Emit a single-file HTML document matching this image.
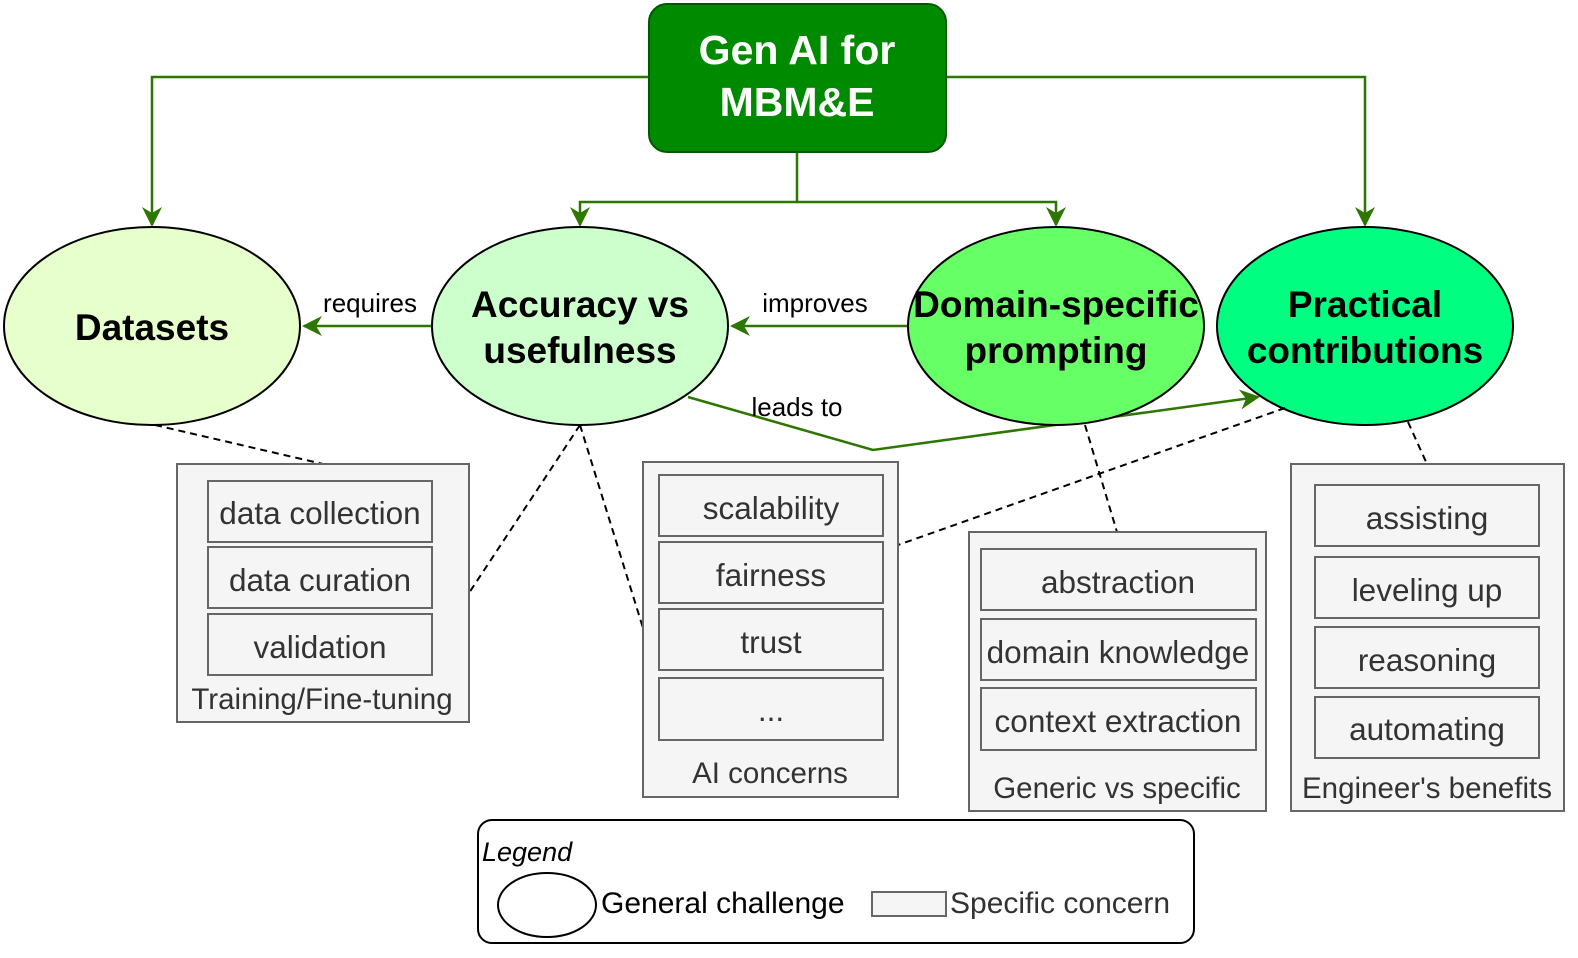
<!DOCTYPE html>
<html><head><meta charset="utf-8"><style>body{margin:0;background:#fff}svg{display:block}</style></head>
<body>
<svg width="1578" height="958" viewBox="0 0 1578 958" xmlns="http://www.w3.org/2000/svg" font-family="Liberation Sans, sans-serif">
<defs>
<marker id="b" viewBox="0 0 10 10" refX="9" refY="5" markerWidth="20" markerHeight="20" orient="auto" markerUnits="userSpaceOnUse"><path d="M0,0 L10,5 L0,10 L3,5 z" fill="#2d7600"/></marker>
</defs>
<g stroke="#2d7600" stroke-width="2.5" fill="none">
<path d="M649,77 H152 V225" marker-end="url(#b)"/>
<path d="M946,77 H1365 V225" marker-end="url(#b)"/>
<path d="M797,152 V202 H580 V225" marker-end="url(#b)"/>
<path d="M797,202 H1056 V225" marker-end="url(#b)"/>
<path d="M432,326 H304" marker-end="url(#b)"/>
<path d="M908,326 H732" marker-end="url(#b)"/>
<path d="M688,397 L873,450 L1258,397" marker-end="url(#b)"/>
</g>
<rect x="649" y="4" width="297" height="148" rx="18" fill="#008a00" stroke="#005700" stroke-width="2"/>
<text x="797" y="64" font-size="41" font-weight="bold" fill="#fff" text-anchor="middle">Gen AI for</text>
<text x="797" y="116" font-size="41" font-weight="bold" fill="#fff" text-anchor="middle">MBM&amp;E</text>
<g stroke="#000" stroke-width="2">
<ellipse cx="152" cy="326" rx="148" ry="99" fill="#e6ffcc"/>
<ellipse cx="580" cy="326" rx="148" ry="99" fill="#ccffcc"/>
<ellipse cx="1056" cy="326" rx="148" ry="99" fill="#66ff66"/>
<ellipse cx="1365" cy="326" rx="148" ry="99" fill="#00ff80"/>
</g>
<g font-size="37" font-weight="bold" text-anchor="middle">
<text x="152" y="340">Datasets</text>
<text x="580" y="317">Accuracy vs</text><text x="580" y="363">usefulness</text>
<text x="1056" y="317">Domain-specific</text><text x="1056" y="363">prompting</text>
<text x="1365" y="317">Practical</text><text x="1365" y="363">contributions</text>
</g>
<g font-size="26" text-anchor="middle">
<text x="370" y="312">requires</text><text x="815" y="312">improves</text><text x="797" y="416">leads to</text>
</g>
<g stroke="#000" stroke-width="2" stroke-dasharray="7,5">
<path d="M155,425 L323,464"/><path d="M580,425 L469,593"/><path d="M580,425 L643,628"/>
<path d="M1285,408 L898,545"/><path d="M1085,425 L1117,532"/><path d="M1408,422 L1427,464"/>
</g>
<g fill="#f5f5f5" stroke="#666" stroke-width="2">
<rect x="177" y="464" width="292" height="258"/>
<rect x="208" y="481" width="224" height="61"/><rect x="208" y="547" width="224" height="61"/><rect x="208" y="614" width="224" height="61"/>
<rect x="643" y="462" width="255" height="335"/>
<rect x="659" y="475" width="224" height="61"/><rect x="659" y="542" width="224" height="61"/><rect x="659" y="609" width="224" height="61"/><rect x="659" y="678" width="224" height="62"/>
<rect x="969" y="532" width="297" height="279"/>
<rect x="981" y="549" width="275" height="61"/><rect x="981" y="619" width="275" height="61"/><rect x="981" y="688" width="275" height="62"/>
<rect x="1291" y="464" width="273" height="347"/>
<rect x="1315" y="485" width="224" height="61"/><rect x="1315" y="557" width="224" height="61"/><rect x="1315" y="627" width="224" height="61"/><rect x="1315" y="697" width="224" height="61"/>
</g>
<g font-size="31.5" fill="#333" text-anchor="middle">
<text x="320" y="524">data collection</text><text x="320" y="591">data curation</text><text x="320" y="658">validation</text>
<text x="771" y="519">scalability</text><text x="771" y="586">fairness</text><text x="771" y="653">trust</text><text x="771" y="721">...</text>
<text x="1118" y="593">abstraction</text><text x="1118" y="663">domain knowledge</text><text x="1118" y="732">context extraction</text>
<text x="1427" y="529">assisting</text><text x="1427" y="601">leveling up</text><text x="1427" y="671">reasoning</text><text x="1427" y="740">automating</text>
</g>
<g font-size="29.5" fill="#333" text-anchor="middle">
<text x="322" y="709">Training/Fine-tuning</text><text x="770" y="783">AI concerns</text>
<text x="1117" y="798">Generic vs specific</text><text x="1427" y="798">Engineer's benefits</text>
</g>
<rect x="478" y="820" width="716" height="123" rx="14" fill="#fff" stroke="#000" stroke-width="2"/>
<text x="482" y="861" font-size="27" font-style="italic">Legend</text>
<ellipse cx="547" cy="905" rx="49" ry="32" fill="#fff" stroke="#000" stroke-width="2"/>
<text x="601" y="913" font-size="30">General challenge</text>
<rect x="872" y="892" width="74" height="24" fill="#f5f5f5" stroke="#666" stroke-width="2"/>
<text x="950" y="913" font-size="30" fill="#333">Specific concern</text>
</svg>
</body></html>
